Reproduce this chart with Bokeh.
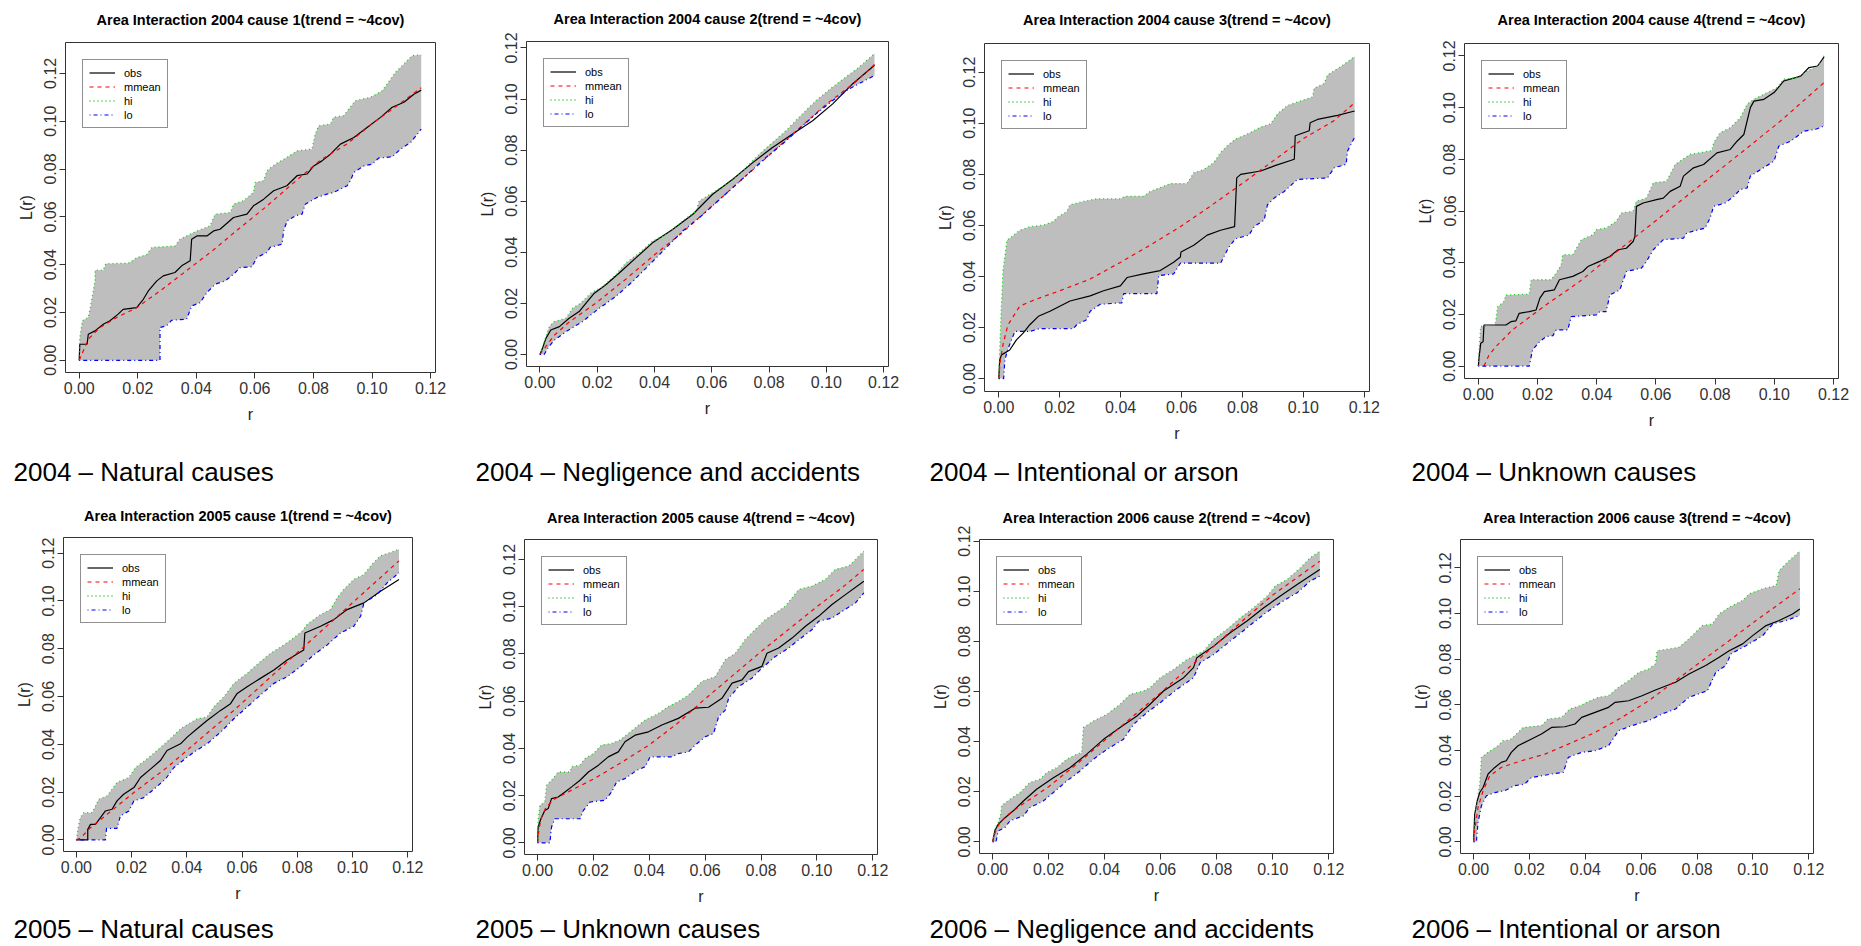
from bokeh.plotting import figure
from bokeh.models import (Range1d, FixedTicker, NumeralTickFormatter, Legend,
                          LegendItem, Title, LinearAxis)
from bokeh.layouts import column, row
from bokeh.embed import file_html
from bokeh.resources import INLINE

FONT = "Liberation Sans"
AXIS_TICKS = [0.0, 0.02, 0.04, 0.06, 0.08, 0.10, 0.12]
R_MAX = 0.117
LEGEND_LABELS = ["obs", "mmean", "hi", "lo"]

TITLES = [
    "Area Interaction 2004 cause 1(trend = ~4cov)",
    "Area Interaction 2004 cause 2(trend = ~4cov)",
    "Area Interaction 2004 cause 3(trend = ~4cov)",
    "Area Interaction 2004 cause 4(trend = ~4cov)",
    "Area Interaction 2005 cause 1(trend = ~4cov)",
    "Area Interaction 2005 cause 4(trend = ~4cov)",
    "Area Interaction 2006 cause 2(trend = ~4cov)",
    "Area Interaction 2006 cause 3(trend = ~4cov)",
]
CAPTIONS = [
    "2004 \u2013 Natural causes",
    "2004 \u2013 Negligence and accidents",
    "2004 \u2013 Intentional or arson",
    "2004 \u2013 Unknown causes",
    "2005 \u2013 Natural causes",
    "2005 \u2013 Unknown causes",
    "2006 \u2013 Negligence and accidents",
    "2006 \u2013 Intentional or arson",
]

# ---- (r, L(r)) points ----
P1_OBS = [(0, 0), (0.0002, 0.0067), (0.0027, 0.0067), (0.0031, 0.0109), (0.0054, 0.0123), (0.0082, 0.0151), (0.0105, 0.0165), (0.0133, 0.0193), (0.015, 0.0213), (0.0196, 0.022), (0.0219, 0.0255), (0.0236, 0.029), (0.0265, 0.0332), (0.0287, 0.0353), (0.0327, 0.0367), (0.035, 0.0395), (0.0379, 0.0416), (0.0384, 0.0506), (0.0402, 0.052), (0.0436, 0.052), (0.0459, 0.0541), (0.0481, 0.0548), (0.0527, 0.0597), (0.0573, 0.0611), (0.0595, 0.0646), (0.063, 0.0674), (0.0664, 0.0709), (0.0709, 0.073), (0.0744, 0.0772), (0.0778, 0.0779), (0.0801, 0.0813), (0.0829, 0.0834), (0.0858, 0.0862), (0.0892, 0.0904), (0.0938, 0.0932), (0.0983, 0.0974), (0.1029, 0.1016), (0.1069, 0.1058), (0.1109, 0.1079), (0.1143, 0.1113), (0.1168, 0.113)]
P1_MEAN = [(0, 0), (0.0031, 0.0088), (0.0071, 0.0137), (0.0128, 0.0179), (0.0196, 0.022), (0.0276, 0.029), (0.0367, 0.0375), (0.0459, 0.0462), (0.055, 0.0555), (0.0641, 0.0645), (0.0732, 0.0742), (0.0824, 0.0837), (0.0915, 0.0905), (0.1006, 0.0995), (0.1097, 0.1075), (0.1168, 0.114)]
P1_HI = [(0, 0), (0.0002, 0.0095), (0.0011, 0.0165), (0.0031, 0.018), (0.0039, 0.0227), (0.0054, 0.0332), (0.0054, 0.0377), (0.0082, 0.0377), (0.0091, 0.0404), (0.0168, 0.0406), (0.0198, 0.043), (0.023, 0.0441), (0.0248, 0.0472), (0.0327, 0.0478), (0.0344, 0.0506), (0.0379, 0.0527), (0.0402, 0.0541), (0.0447, 0.0562), (0.0464, 0.0611), (0.0516, 0.0618), (0.0527, 0.0653), (0.0561, 0.0667), (0.0595, 0.0702), (0.0601, 0.0744), (0.063, 0.0751), (0.0641, 0.0793), (0.067, 0.082), (0.0709, 0.0848), (0.0744, 0.0876), (0.0795, 0.0883), (0.0806, 0.0946), (0.0818, 0.0981), (0.0858, 0.0988), (0.0869, 0.1016), (0.0903, 0.1023), (0.0943, 0.1086), (0.0995, 0.11), (0.1035, 0.1127), (0.108, 0.1204), (0.112, 0.1253), (0.1137, 0.1274), (0.1168, 0.1278)]
P1_LO = [(0, 0), (0.0276, 0), (0.0276, 0.0137), (0.0298, 0.0144), (0.0315, 0.0167), (0.0367, 0.0172), (0.0384, 0.0227), (0.0413, 0.0241), (0.0436, 0.0283), (0.0464, 0.0318), (0.0498, 0.0332), (0.0527, 0.036), (0.055, 0.0388), (0.059, 0.0391), (0.0607, 0.043), (0.0641, 0.0451), (0.0652, 0.0472), (0.0693, 0.0486), (0.0698, 0.0541), (0.071, 0.0583), (0.0738, 0.0604), (0.0761, 0.0611), (0.0772, 0.0653), (0.0812, 0.0681), (0.0846, 0.0695), (0.0869, 0.0702), (0.0915, 0.073), (0.0926, 0.0751), (0.0938, 0.0786), (0.0972, 0.0813), (0.1, 0.082), (0.1023, 0.0846), (0.1069, 0.0851), (0.1097, 0.0883), (0.1132, 0.0911), (0.1168, 0.0967)]

P2_OBS = [(0, 0), (0.0009, 0.0024), (0.0021, 0.0063), (0.0038, 0.0096), (0.0068, 0.0109), (0.0102, 0.0142), (0.0137, 0.0168), (0.0161, 0.0201), (0.019, 0.024), (0.023, 0.0273), (0.0277, 0.0319), (0.0335, 0.0378), (0.0393, 0.0437), (0.0463, 0.0489), (0.0533, 0.0548), (0.0603, 0.0627), (0.0673, 0.0686), (0.0743, 0.0751), (0.0812, 0.081), (0.0882, 0.0863), (0.0952, 0.0915), (0.1022, 0.0981), (0.1092, 0.106), (0.1168, 0.1132)]
P2_MEAN = [(0, 0), (0.002, 0.003), (0.005, 0.0075), (0.01, 0.0125), (0.02, 0.0205), (0.03, 0.0295), (0.04, 0.039), (0.05, 0.048), (0.06, 0.058), (0.07, 0.068), (0.08, 0.078), (0.09, 0.088), (0.1, 0.098), (0.11, 0.1065), (0.1168, 0.1135)]
P2_HI = [(0, 0), (0.0015, 0.005), (0.0033, 0.0109), (0.005, 0.0129), (0.0091, 0.0142), (0.0114, 0.0181), (0.0143, 0.0201), (0.0178, 0.024), (0.0219, 0.0266), (0.0265, 0.0312), (0.03, 0.0358), (0.0347, 0.0397), (0.0393, 0.0443), (0.044, 0.047), (0.0498, 0.0522), (0.0545, 0.0561), (0.0556, 0.0601), (0.0603, 0.0633), (0.0661, 0.0673), (0.0708, 0.0719), (0.0766, 0.0784), (0.0812, 0.083), (0.0859, 0.0876), (0.0905, 0.0929), (0.0964, 0.0994), (0.1022, 0.1047), (0.1068, 0.1086), (0.1115, 0.1125), (0.1168, 0.1178)]
P2_LO = [(0, 0), (0.0015, 0), (0.0027, 0.0024), (0.005, 0.0056), (0.0091, 0.0089), (0.0149, 0.0129), (0.0207, 0.0181), (0.0265, 0.0227), (0.0324, 0.0286), (0.0382, 0.0351), (0.044, 0.0417), (0.0498, 0.0483), (0.0556, 0.0535), (0.0615, 0.0594), (0.0673, 0.0653), (0.0731, 0.0712), (0.0789, 0.0771), (0.0847, 0.0824), (0.0905, 0.0883), (0.0964, 0.0942), (0.1022, 0.0994), (0.108, 0.104), (0.1168, 0.1092)]

P3_OBS = [(0, 0), (0.0003, 0.0073), (0.0009, 0.0093), (0.0036, 0.0112), (0.0058, 0.0152), (0.008, 0.0178), (0.0102, 0.0211), (0.013, 0.0244), (0.0168, 0.0264), (0.0234, 0.0304), (0.03, 0.0324), (0.0344, 0.0344), (0.0399, 0.0363), (0.0421, 0.0396), (0.0475, 0.041), (0.053, 0.0423), (0.0574, 0.0456), (0.0596, 0.0476), (0.0598, 0.0496), (0.064, 0.0522), (0.0684, 0.0562), (0.0728, 0.0581), (0.0774, 0.0595), (0.0781, 0.0786), (0.0794, 0.08), (0.086, 0.0813), (0.0904, 0.0833), (0.097, 0.0859), (0.0973, 0.0951), (0.1019, 0.0971), (0.1022, 0.1002), (0.1046, 0.1015), (0.1112, 0.1031), (0.1168, 0.1048)]
P3_MEAN = [(0, 0), (0.0005, 0.007), (0.0015, 0.014), (0.003, 0.021), (0.0069, 0.0284), (0.012, 0.031), (0.02, 0.0344), (0.03, 0.039), (0.04, 0.0456), (0.05, 0.0525), (0.0596, 0.0595), (0.07, 0.068), (0.08, 0.0765), (0.087, 0.0826), (0.1, 0.094), (0.11, 0.101), (0.1168, 0.108)]
P3_HI = [(0, 0), (0.0003, 0.0106), (0.0007, 0.0238), (0.0014, 0.0423), (0.0027, 0.0542), (0.0042, 0.0555), (0.0069, 0.0581), (0.0102, 0.0595), (0.0146, 0.0601), (0.0179, 0.0615), (0.0195, 0.0634), (0.0223, 0.0654), (0.0234, 0.0681), (0.0278, 0.0694), (0.0322, 0.0704), (0.0399, 0.0704), (0.0415, 0.0714), (0.0475, 0.0714), (0.0497, 0.0733), (0.0541, 0.0753), (0.0563, 0.0764), (0.0618, 0.0764), (0.064, 0.0806), (0.0673, 0.0819), (0.0706, 0.0846), (0.0728, 0.0885), (0.075, 0.0912), (0.0777, 0.0938), (0.0816, 0.0958), (0.086, 0.0985), (0.0893, 0.0998), (0.0915, 0.1037), (0.0948, 0.107), (0.0997, 0.109), (0.103, 0.1103), (0.1035, 0.1137), (0.1068, 0.1156), (0.1079, 0.1189), (0.1123, 0.1222), (0.1168, 0.1262)]
P3_LO = [(0, 0), (0.0016, 0), (0.002, 0.0073), (0.0031, 0.0119), (0.0053, 0.0185), (0.0102, 0.0185), (0.0135, 0.0196), (0.0245, 0.0196), (0.0256, 0.0211), (0.0289, 0.0231), (0.03, 0.0264), (0.0333, 0.0291), (0.0404, 0.0297), (0.041, 0.0333), (0.0519, 0.0333), (0.0525, 0.0403), (0.0574, 0.041), (0.0596, 0.0452), (0.0728, 0.0452), (0.0755, 0.0515), (0.0777, 0.0548), (0.0821, 0.0562), (0.0838, 0.0595), (0.0871, 0.0621), (0.0882, 0.0681), (0.0904, 0.0707), (0.0937, 0.0733), (0.098, 0.078), (0.1079, 0.0786), (0.1101, 0.0826), (0.114, 0.0839), (0.1145, 0.0892), (0.1168, 0.0945)]

P4_OBS = [(0, 0), (0.0002, 0.003), (0.0008, 0.0088), (0.0016, 0.0094), (0.0019, 0.0159), (0.0093, 0.0159), (0.011, 0.0172), (0.0127, 0.0175), (0.0138, 0.0204), (0.0172, 0.0211), (0.0195, 0.0217), (0.0208, 0.0263), (0.0223, 0.0288), (0.0257, 0.0295), (0.0274, 0.0334), (0.0319, 0.0347), (0.0353, 0.0366), (0.037, 0.0385), (0.041, 0.0405), (0.0444, 0.0424), (0.0472, 0.045), (0.05, 0.0456), (0.0523, 0.0482), (0.0529, 0.0502), (0.0534, 0.0618), (0.0557, 0.0631), (0.0602, 0.0644), (0.0625, 0.065), (0.0648, 0.0676), (0.0682, 0.0696), (0.0693, 0.0735), (0.0727, 0.0767), (0.0761, 0.078), (0.0806, 0.0825), (0.0851, 0.0838), (0.0874, 0.087), (0.0897, 0.0896), (0.0919, 0.1), (0.0931, 0.1025), (0.0965, 0.1032), (0.0999, 0.1058), (0.1032, 0.1103), (0.1089, 0.1122), (0.1117, 0.1155), (0.1146, 0.1161), (0.1168, 0.1196)]
P4_MEAN = [(0.0019, 0), (0.0036, 0.0043), (0.0059, 0.0075), (0.0115, 0.014), (0.0229, 0.0237), (0.0342, 0.0327), (0.0455, 0.0431), (0.0568, 0.0534), (0.0682, 0.0638), (0.0795, 0.0741), (0.0908, 0.0844), (0.1021, 0.0948), (0.1168, 0.1097)]
P4_HI = [(0, 0), (0.0002, 0.0056), (0.0008, 0.0153), (0.0057, 0.0159), (0.0065, 0.023), (0.0087, 0.025), (0.0093, 0.0275), (0.0172, 0.0278), (0.0178, 0.0334), (0.0246, 0.0334), (0.0263, 0.036), (0.028, 0.0392), (0.0285, 0.0431), (0.0319, 0.0431), (0.0348, 0.0489), (0.0387, 0.0508), (0.0399, 0.0528), (0.0432, 0.0534), (0.0466, 0.056), (0.0483, 0.0592), (0.0523, 0.0599), (0.0534, 0.0638), (0.0568, 0.065), (0.0591, 0.0709), (0.0636, 0.0715), (0.0665, 0.078), (0.0715, 0.0819), (0.0789, 0.0834), (0.0795, 0.0864), (0.0817, 0.0903), (0.0851, 0.0922), (0.0885, 0.0961), (0.0908, 0.1013), (0.0931, 0.1032), (0.0976, 0.1058), (0.101, 0.1077), (0.1032, 0.111), (0.1078, 0.1116), (0.1112, 0.1142), (0.1146, 0.1161), (0.1168, 0.12)]
P4_LO = [(0, 0), (0.0172, 0), (0.0183, 0.0062), (0.0206, 0.0094), (0.0229, 0.0114), (0.0252, 0.0118), (0.0263, 0.014), (0.0302, 0.014), (0.0314, 0.0191), (0.0399, 0.0198), (0.041, 0.0211), (0.0432, 0.0211), (0.0444, 0.0275), (0.0478, 0.0295), (0.05, 0.0366), (0.0551, 0.0379), (0.0568, 0.0405), (0.0591, 0.045), (0.0625, 0.0489), (0.0693, 0.0495), (0.0704, 0.0515), (0.0766, 0.0534), (0.0783, 0.0573), (0.0795, 0.0618), (0.0834, 0.0631), (0.0863, 0.0657), (0.0885, 0.0683), (0.0908, 0.0689), (0.0919, 0.0735), (0.0953, 0.076), (0.0999, 0.0793), (0.1015, 0.0851), (0.1055, 0.087), (0.11, 0.0909), (0.114, 0.0916), (0.1168, 0.0929)]

P5_OBS = [(0, 0), (0.0041, 0), (0.0041, 0.0044), (0.0051, 0.0065), (0.0069, 0.0065), (0.0087, 0.0093), (0.0105, 0.0121), (0.0129, 0.0128), (0.0147, 0.0163), (0.0171, 0.0191), (0.0208, 0.0219), (0.0232, 0.0261), (0.0268, 0.0296), (0.0304, 0.0332), (0.0328, 0.0374), (0.0377, 0.0402), (0.0401, 0.043), (0.0437, 0.0465), (0.0473, 0.05), (0.0522, 0.0542), (0.0558, 0.057), (0.0582, 0.0613), (0.0618, 0.0641), (0.0666, 0.0676), (0.0715, 0.0711), (0.0763, 0.0753), (0.0823, 0.0795), (0.0827, 0.0866), (0.0884, 0.0894), (0.0932, 0.0922), (0.098, 0.0964), (0.1041, 0.0992), (0.1101, 0.1041), (0.1168, 0.109)]
P5_MEAN = [(0, 0), (0.0015, 0.0008), (0.0051, 0.0051), (0.0111, 0.0107), (0.0208, 0.0198), (0.0328, 0.0303), (0.0449, 0.0423), (0.057, 0.0542), (0.0691, 0.0669), (0.0811, 0.0795), (0.0932, 0.0922), (0.1053, 0.1048), (0.1168, 0.1168)]
P5_HI = [(0, 0), (0.0005, 0.0044), (0.0014, 0.0093), (0.0027, 0.0114), (0.0057, 0.0114), (0.0081, 0.017), (0.0111, 0.0184), (0.0147, 0.024), (0.019, 0.0261), (0.0214, 0.0303), (0.0256, 0.0339), (0.0292, 0.0374), (0.034, 0.0423), (0.0377, 0.0465), (0.0437, 0.0507), (0.0473, 0.0514), (0.0497, 0.0556), (0.0534, 0.0599), (0.057, 0.0655), (0.0618, 0.0697), (0.0666, 0.0746), (0.0703, 0.0781), (0.0751, 0.0816), (0.0793, 0.0851), (0.0817, 0.0873), (0.0835, 0.0901), (0.0884, 0.0943), (0.092, 0.0964), (0.0944, 0.1013), (0.0968, 0.1048), (0.1004, 0.109), (0.1041, 0.1111), (0.1071, 0.1154), (0.1101, 0.1189), (0.1137, 0.1203), (0.1168, 0.1217)]
P5_LO = [(0, 0), (0.0105, 0), (0.0109, 0.0048), (0.0147, 0.0048), (0.0159, 0.01), (0.019, 0.0121), (0.0208, 0.0163), (0.0244, 0.0177), (0.028, 0.0212), (0.0322, 0.0254), (0.0353, 0.0303), (0.0401, 0.0346), (0.0425, 0.0367), (0.0473, 0.0402), (0.0522, 0.0451), (0.057, 0.0507), (0.0618, 0.0556), (0.0666, 0.0606), (0.0715, 0.0655), (0.0763, 0.0683), (0.0811, 0.0725), (0.0859, 0.0774), (0.0908, 0.0816), (0.0956, 0.0866), (0.1004, 0.0894), (0.1029, 0.0936), (0.1041, 0.0992), (0.1089, 0.1027), (0.1125, 0.1076), (0.1168, 0.1118)]

P6_OBS = [(0, 0), (0.0002, 0.0067), (0.0012, 0.0102), (0.0026, 0.0137), (0.0038, 0.0145), (0.005, 0.0187), (0.0074, 0.0194), (0.0098, 0.0215), (0.0122, 0.0237), (0.0152, 0.0265), (0.0182, 0.03), (0.0218, 0.0329), (0.0253, 0.0364), (0.0289, 0.0385), (0.0313, 0.0428), (0.0349, 0.0456), (0.0397, 0.047), (0.0445, 0.0499), (0.0504, 0.0527), (0.0564, 0.057), (0.0612, 0.0574), (0.066, 0.0612), (0.0696, 0.0676), (0.0732, 0.069), (0.0755, 0.0725), (0.0803, 0.0747), (0.0821, 0.0803), (0.0863, 0.0825), (0.0911, 0.0867), (0.0959, 0.0917), (0.1006, 0.0959), (0.1054, 0.1009), (0.1102, 0.1051), (0.1168, 0.1108)]
P6_MEAN = [(0, 0), (0.0005, 0.006), (0.0015, 0.011), (0.003, 0.015), (0.006, 0.0185), (0.01, 0.021), (0.02, 0.027), (0.03, 0.034), (0.04, 0.0415), (0.05, 0.0505), (0.06, 0.061), (0.07, 0.071), (0.08, 0.081), (0.09, 0.0905), (0.1, 0.1), (0.11, 0.109), (0.1168, 0.1158)]
P6_HI = [(0, 0), (0.0002, 0.0095), (0.0008, 0.0159), (0.0026, 0.0173), (0.0032, 0.0244), (0.005, 0.0265), (0.0074, 0.03), (0.0116, 0.03), (0.0122, 0.0322), (0.0152, 0.0329), (0.017, 0.0357), (0.02, 0.0378), (0.0229, 0.0414), (0.0265, 0.0421), (0.0295, 0.0435), (0.0325, 0.0463), (0.0355, 0.0492), (0.0385, 0.052), (0.0433, 0.0548), (0.0468, 0.0577), (0.0504, 0.0598), (0.054, 0.0626), (0.0588, 0.0683), (0.0636, 0.0704), (0.0672, 0.0775), (0.0708, 0.0803), (0.0743, 0.086), (0.0779, 0.0903), (0.0815, 0.0945), (0.0851, 0.0973), (0.0887, 0.1002), (0.0935, 0.1073), (0.0983, 0.1087), (0.103, 0.1115), (0.1066, 0.1158), (0.1114, 0.1172), (0.1138, 0.12), (0.1168, 0.1235)]
P6_LO = [(0, 0), (0.0044, 0), (0.005, 0.0067), (0.0062, 0.0102), (0.0152, 0.0102), (0.0164, 0.0137), (0.0188, 0.0173), (0.0241, 0.018), (0.0265, 0.0215), (0.0283, 0.0258), (0.0313, 0.0272), (0.0355, 0.0307), (0.0385, 0.0322), (0.0403, 0.0364), (0.0481, 0.0364), (0.0504, 0.0378), (0.054, 0.0385), (0.0564, 0.0414), (0.06, 0.0449), (0.063, 0.0463), (0.0648, 0.0534), (0.0672, 0.0562), (0.0684, 0.0612), (0.072, 0.0662), (0.0767, 0.0697), (0.0803, 0.074), (0.0851, 0.0789), (0.0899, 0.0825), (0.0935, 0.086), (0.0983, 0.0903), (0.1006, 0.0938), (0.1054, 0.0952), (0.109, 0.098), (0.1138, 0.1016), (0.1168, 0.1058)]

P7_OBS = [(0, 0), (0.0008, 0.0044), (0.002, 0.007), (0.0038, 0.009), (0.0074, 0.0124), (0.011, 0.0163), (0.0157, 0.021), (0.0217, 0.0256), (0.0276, 0.0296), (0.0336, 0.035), (0.0396, 0.0409), (0.0455, 0.0456), (0.0515, 0.0502), (0.0562, 0.0549), (0.061, 0.0602), (0.0682, 0.0655), (0.0717, 0.0695), (0.0729, 0.0735), (0.0789, 0.0781), (0.0848, 0.0834), (0.0908, 0.0881), (0.0968, 0.0934), (0.1027, 0.0981), (0.1087, 0.1027), (0.1168, 0.1087)]
P7_MEAN = [(0, 0), (0.001, 0.004), (0.0025, 0.0075), (0.005, 0.0105), (0.01, 0.0145), (0.02, 0.022), (0.03, 0.031), (0.04, 0.0405), (0.05, 0.05), (0.06, 0.0595), (0.07, 0.0695), (0.08, 0.079), (0.09, 0.089), (0.1, 0.0985), (0.11, 0.1065), (0.1168, 0.112)]
P7_HI = [(0, 0), (0.0008, 0.005), (0.002, 0.0077), (0.0029, 0.011), (0.0032, 0.0144), (0.0062, 0.017), (0.0098, 0.0197), (0.0133, 0.0237), (0.0169, 0.025), (0.0193, 0.0276), (0.0229, 0.0296), (0.0265, 0.033), (0.03, 0.035), (0.0318, 0.0356), (0.0324, 0.0456), (0.036, 0.0482), (0.0408, 0.0509), (0.0455, 0.0549), (0.0491, 0.0589), (0.0539, 0.0602), (0.0562, 0.0615), (0.0598, 0.0655), (0.0646, 0.0688), (0.0694, 0.0728), (0.0753, 0.0761), (0.0789, 0.0808), (0.0837, 0.0848), (0.0884, 0.0894), (0.0932, 0.0934), (0.098, 0.0981), (0.1009, 0.1021), (0.1051, 0.1047), (0.1099, 0.1094), (0.1134, 0.1134), (0.1168, 0.116)]
P7_LO = [(0, 0), (0.0012, 0), (0.002, 0.0044), (0.0044, 0.0057), (0.0062, 0.0084), (0.011, 0.0104), (0.0133, 0.0137), (0.0181, 0.0163), (0.0217, 0.0197), (0.0265, 0.0243), (0.0312, 0.0283), (0.036, 0.033), (0.0408, 0.0369), (0.0467, 0.0409), (0.0503, 0.0469), (0.0551, 0.0516), (0.0598, 0.0555), (0.0658, 0.0609), (0.0717, 0.0655), (0.0741, 0.0715), (0.0789, 0.0748), (0.0848, 0.0801), (0.0908, 0.0854), (0.0968, 0.0908), (0.1027, 0.0954), (0.1087, 0.0994), (0.1134, 0.1041), (0.1168, 0.106)]

P8_OBS = [(0, 0), (0.0004, 0.0121), (0.0013, 0.018), (0.0022, 0.0216), (0.0034, 0.0238), (0.0052, 0.0297), (0.0076, 0.0326), (0.0099, 0.0348), (0.0117, 0.0355), (0.0135, 0.0392), (0.0159, 0.0421), (0.0195, 0.0443), (0.0243, 0.0472), (0.0279, 0.0501), (0.0327, 0.0504), (0.0363, 0.0516), (0.0387, 0.0545), (0.0435, 0.0567), (0.0483, 0.0589), (0.0507, 0.0611), (0.0555, 0.0618), (0.0603, 0.064), (0.0651, 0.0665), (0.0723, 0.0699), (0.0771, 0.0735), (0.0831, 0.0772), (0.0879, 0.0808), (0.0915, 0.0837), (0.0963, 0.0867), (0.0999, 0.0903), (0.1047, 0.0947), (0.1094, 0.0969), (0.1142, 0.0998), (0.1168, 0.102)]
P8_MEAN = [(0, 0), (0.0004, 0.0048), (0.0016, 0.0151), (0.0034, 0.0224), (0.0058, 0.0289), (0.0099, 0.0326), (0.0171, 0.0355), (0.0255, 0.0384), (0.0339, 0.0428), (0.0435, 0.0479), (0.0531, 0.0545), (0.0627, 0.0618), (0.0723, 0.0706), (0.0819, 0.0794), (0.0915, 0.0881), (0.1011, 0.0969), (0.1094, 0.1042), (0.1168, 0.1108)]
P8_HI = [(0, 0), (0.0004, 0.0077), (0.001, 0.0158), (0.0022, 0.0253), (0.0028, 0.037), (0.0052, 0.0392), (0.0088, 0.0421), (0.0105, 0.0443), (0.013, 0.0446), (0.0159, 0.0479), (0.0177, 0.0501), (0.0243, 0.0509), (0.0267, 0.0538), (0.0315, 0.0545), (0.0345, 0.0582), (0.0381, 0.0596), (0.0405, 0.0611), (0.0447, 0.0633), (0.0483, 0.064), (0.0519, 0.0677), (0.0555, 0.0706), (0.0591, 0.0742), (0.0627, 0.0757), (0.0651, 0.0779), (0.0657, 0.0837), (0.0699, 0.0845), (0.0735, 0.0852), (0.0771, 0.0889), (0.0795, 0.0918), (0.0819, 0.0947), (0.0855, 0.0954), (0.0879, 0.0998), (0.0915, 0.1027), (0.0963, 0.1057), (0.0987, 0.1086), (0.1035, 0.1108), (0.1083, 0.1122), (0.1094, 0.1188), (0.113, 0.1232), (0.1168, 0.1273)]
P8_LO = [(0, 0), (0.001, 0), (0.0016, 0.0085), (0.0028, 0.0158), (0.0046, 0.0202), (0.0076, 0.0216), (0.0111, 0.0224), (0.0147, 0.0246), (0.0183, 0.0253), (0.0207, 0.0282), (0.0243, 0.0289), (0.0279, 0.0297), (0.0321, 0.0304), (0.0339, 0.037), (0.0387, 0.0392), (0.0435, 0.0399), (0.0483, 0.0421), (0.0519, 0.0487), (0.0567, 0.0509), (0.0627, 0.0531), (0.0675, 0.056), (0.0723, 0.0582), (0.0771, 0.0633), (0.0837, 0.0662), (0.0867, 0.0742), (0.0903, 0.0772), (0.0921, 0.0823), (0.0975, 0.0859), (0.1035, 0.0903), (0.1071, 0.0954), (0.1118, 0.0969), (0.1168, 0.0991)]

PANEL_DATA = [
    (P1_OBS, P1_MEAN, P1_HI, P1_LO),
    (P2_OBS, P2_MEAN, P2_HI, P2_LO),
    (P3_OBS, P3_MEAN, P3_HI, P3_LO),
    (P4_OBS, P4_MEAN, P4_HI, P4_LO),
    (P5_OBS, P5_MEAN, P5_HI, P5_LO),
    (P6_OBS, P6_MEAN, P6_HI, P6_LO),
    (P7_OBS, P7_MEAN, P7_HI, P7_LO),
    (P8_OBS, P8_MEAN, P8_HI, P8_LO),
]

# layout: cell w, cell h, border l, r, t, b, title spacer, caption spacer, caption x offset
GEOM = [
    (465, 490, 65, 30, 42, 118, 15, 31, -52),
    (457, 490, 61, 34, 41, 124, 15, 37, -51),
    (473, 490, 62, 26, 43, 99, 16, 12, -55),
    (466, 490, 69, 23, 43, 112, 16, 25, -53),
    (465, 456, 63, 53, 47, 95, 14, 9, -50),
    (457, 456, 59, 45, 49, 92, 14, 6, -49),
    (473, 456, 57, 62, 49, 93, 14, 7, -50),
    (466, 456, 65, 48, 49, 93, 14, 7, -49),
]

LINE_STYLES = [
    dict(line_color="black", line_width=1.2),
    dict(line_color="#FF0000", line_width=1.2, line_dash="4 4"),
    dict(line_color="#1FC81F", line_width=1.3, line_dash="1 3"),
    dict(line_color="#0000FF", line_width=1.2, line_dash="1 3 4 3"),
]


def xs(seq):
    return [pt[0] for pt in seq]


def ys(seq):
    return [pt[1] for pt in seq]


def spacer_axis(size):
    # an invisible axis used only to reserve vertical room
    return LinearAxis(ticker=FixedTicker(ticks=[0.06]), axis_line_color=None,
                      major_tick_out=size, major_tick_in=0, minor_tick_out=0,
                      minor_tick_in=0, major_tick_line_color=None,
                      minor_tick_line_color=None, major_label_standoff=0,
                      major_label_text_color=None, major_label_text_font_size="1px",
                      axis_label=None)


def make_panel(series, title, caption, geom):
    w, h, bl, br, bt, bb, t_sp, c_sp, c_dx = geom
    obs, mean, hi, lo = series
    ymax = max(v for s in series for _, v in s)
    p = figure(width=w, height=h, output_backend="svg", toolbar_location=None,
               x_range=Range1d(-0.04 * R_MAX, 1.04 * R_MAX),
               y_range=Range1d(-0.04 * ymax, 1.04 * ymax),
               min_border_left=bl, min_border_right=br,
               min_border_top=bt, min_border_bottom=bb,
               title=None, x_axis_label="r", y_axis_label="L(r)")
    try:
        p.frame_align = False
    except Exception:
        pass
    p.background_fill_color = "white"
    p.border_fill_color = "white"
    p.outline_line_color = "#333333"
    p.outline_line_width = 1
    p.grid.visible = False

    xa, ya = p.xaxis[0], p.yaxis[0]
    for ax in (xa, ya):
        ax.ticker = FixedTicker(ticks=AXIS_TICKS)
        ax.formatter = NumeralTickFormatter(format="0.00")
        ax.axis_line_color = None
        ax.major_tick_line_color = "#333333"
        ax.major_tick_out = 6
        ax.major_tick_in = 0
        ax.minor_tick_line_color = None
        ax.major_label_standoff = 3
        ax.major_label_text_font = FONT
        ax.major_label_text_font_size = "16px"
        ax.major_label_text_color = "#333333"
        ax.axis_label_text_font = FONT
        ax.axis_label_text_font_size = "16px"
        ax.axis_label_text_font_style = "normal"
        ax.axis_label_text_color = "#222222"
    xa.axis_label_standoff = 9
    ya.axis_label_standoff = 7
    ya.major_label_orientation = "vertical"

    band_x = xs(hi) + xs(lo)[::-1]
    band_y = ys(hi) + ys(lo)[::-1]
    p.patch(band_x, band_y, fill_color="#BEBEBE", line_color=None)

    rends = []
    for s, style in zip((obs, mean, hi, lo), LINE_STYLES):
        rends.append(p.line(xs(s), ys(s), **style))

    legend = Legend(items=[LegendItem(label=lab, renderers=[r])
                           for lab, r in zip(LEGEND_LABELS, rends)],
                    location="top_left", margin=17, padding=6, spacing=1,
                    label_height=13, glyph_height=13, glyph_width=26,
                    label_standoff=9, label_text_font=FONT,
                    label_text_font_size="11px", label_text_color="black",
                    border_line_color="#222222", border_line_width=1,
                    background_fill_color="white", background_fill_alpha=1)
    p.add_layout(legend)

    p.add_layout(spacer_axis(t_sp), "above")
    p.add_layout(Title(text=title, align="center", vertical_align="bottom",
                       standoff=0, text_font=FONT, text_font_size="14.5px",
                       text_font_style="bold", text_color="black"), "above")
    p.add_layout(spacer_axis(c_sp), "below")
    p.add_layout(Title(text=caption, align="left", offset=c_dx,
                       vertical_align="top", standoff=0, text_font=FONT,
                       text_font_size="26px", text_font_style="normal",
                       text_color="black"), "below")
    return p


figs = [make_panel(d, t, c, g) for d, t, c, g in zip(PANEL_DATA, TITLES, CAPTIONS, GEOM)]
layout = column(row(*figs[:4]), row(*figs[4:]))

open("out.html", "w").write(file_html(layout, INLINE))
